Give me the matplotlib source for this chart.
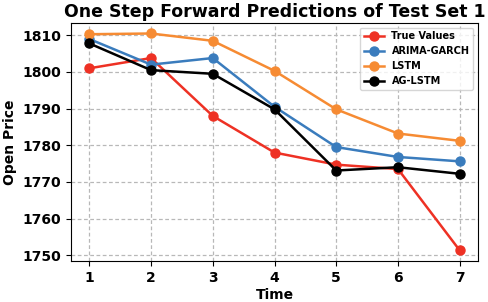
import matplotlib
matplotlib.use('Agg')
import matplotlib.pyplot as plt

time = [1, 2, 3, 4, 5, 6, 7]
true_values = [1801.0, 1803.8, 1788.0, 1778.0, 1774.7, 1773.5, 1751.3]
arima_garch = [1809.0, 1802.0, 1803.8, 1790.5, 1779.5, 1776.8, 1775.6]
lstm = [1810.3, 1810.5, 1808.5, 1800.3, 1789.8, 1783.2, 1781.2]
ag_lstm = [1807.8, 1800.5, 1799.5, 1789.8, 1773.1, 1774.0, 1772.2]

plt.rcParams['font.weight'] = 'bold'
plt.rcParams['axes.labelweight'] = 'bold'

fig, ax = plt.subplots(figsize=(4.88, 3.02), dpi=100)
ax.plot(time, true_values, 'o-', color='#ee3124', label='True Values', markersize=6.5, linewidth=1.8)
ax.plot(time, arima_garch, 'o-', color='#3a7cbd', label='ARIMA-GARCH', markersize=6.5, linewidth=1.8)
ax.plot(time, lstm, 'o-', color='#f68b33', label='LSTM', markersize=6.5, linewidth=1.8)
ax.plot(time, ag_lstm, 'o-', color='black', label='AG-LSTM', markersize=6.5, linewidth=1.8)

ax.grid(True, color='#b8b8b8', linestyle=(0, (3, 2)), linewidth=0.9)
ax.set_xticks(time)
ax.tick_params(labelsize=10)
ax.set_xlabel('Time', fontsize=10, fontweight='bold', labelpad=2)
ax.set_ylabel('Open Price', fontsize=10, fontweight='bold')
ax.set_title('One Step Forward Predictions of Test Set 1', fontsize=12.5, fontweight='bold', pad=4)
ax.legend(loc='upper right', prop={'weight': 'bold', 'size': 7})

fig.subplots_adjust(left=0.145, right=0.98, top=0.925, bottom=0.135)
fig.savefig('out.png', dpi=100)
